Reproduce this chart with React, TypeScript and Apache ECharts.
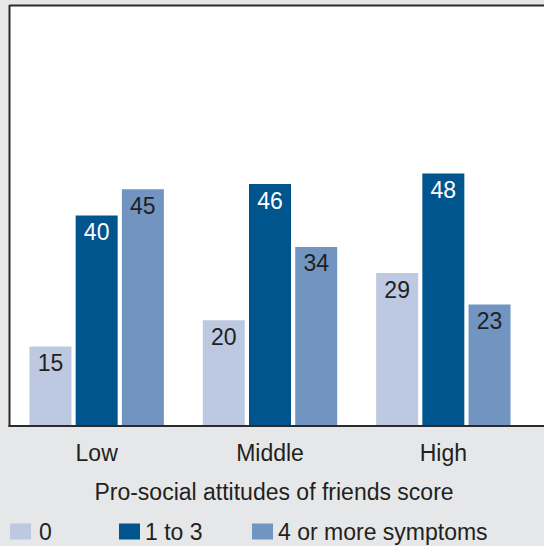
import React, { useEffect, useRef } from "react";
import * as echarts from "echarts";

const categories = ["Low", "Middle", "High"];
const seriesNames = ["0", "1 to 3", "4 or more symptoms"];
const valuesNone = [15, 20, 29];
const valuesOneToThree = [40, 46, 48];
const valuesFourPlus = [45, 34, 23];
const axisTitle = "Pro-social attitudes of friends score";

const colors = ["#bcc9e1", "#00558f", "#7194c1"];
const labelColors = ["#231f20", "#ffffff", "#231f20"];
const FONT = "'Liberation Sans', Arial, Helvetica, sans-serif";
const TEXT = "#231f20";

export default function App() {
  const ref = useRef<HTMLDivElement>(null);
  useEffect(() => {
    if (!ref.current) return;
    const chart = echarts.init(ref.current, null, { renderer: "svg" });
    const data = [valuesNone, valuesOneToThree, valuesFourPlus];
    const legendLefts = [10, 119, 252];
    const legendPads = [[0, 0, 0, 3], [0, 0, 0, 0], [0, 0, 0, 0]];
    chart.setOption({
      animation: false,
      backgroundColor: "#e6e7e8",
      textStyle: { fontFamily: FONT },
      grid: { left: 10, right: 14, top: 6, bottom: 121, containLabel: false },
      legend: seriesNames.map((n, i) => ({
        data: [n],
        left: legendLefts[i],
        top: 520,
        itemWidth: 21,
        itemHeight: 16,
        icon: "rect",
        selectedMode: false,
        padding: 0,
        textStyle: { fontFamily: FONT, fontSize: 23, color: TEXT, padding: legendPads[i] },
      })),
      xAxis: {
        type: "category",
        data: categories,
        axisLine: { show: false },
        axisTick: { show: false },
        axisLabel: { fontFamily: FONT, fontSize: 23, color: TEXT, margin: 16 },
      },
      yAxis: {
        type: "value",
        min: 0,
        max: 80,
        show: false,
        splitLine: { show: false },
      },
      graphic: [
        {
          type: "rect",
          z: -10,
          shape: { x: 10, y: 6, width: 534, height: 419 },
          style: { fill: "#ffffff" },
        },
        {
          type: "line",
          z: 100,
          shape: { x1: 9.5, y1: 5.5, x2: 544, y2: 5.5 },
          style: { stroke: "#2b2b2b", lineWidth: 2 },
        },
        {
          type: "line",
          z: 100,
          shape: { x1: 9.5, y1: 5, x2: 9.5, y2: 427 },
          style: { stroke: "#2b2b2b", lineWidth: 2 },
        },
        {
          type: "line",
          z: 100,
          shape: { x1: 8.5, y1: 426, x2: 544, y2: 426 },
          style: { stroke: "#2b2b2b", lineWidth: 2 },
        },
        {
          type: "text",
          x: 274,
          y: 492,
          style: {
            text: axisTitle,
            fontFamily: FONT,
            fontSize: 23,
            fill: TEXT,
            textAlign: "center",
            textVerticalAlign: "middle",
          },
        },
      ],
      series: seriesNames.map((n, i) => ({
        name: n,
        type: "bar",
        data: data[i],
        barWidth: 42,
        barGap: "10%",
        barCategoryGap: "22.8%",
        itemStyle: { color: colors[i] },
        label: {
          show: true,
          position: "insideTop",
          distance: 5,
          fontFamily: FONT,
          fontSize: 23,
          color: labelColors[i],
        },
      })),
    });
    return () => chart.dispose();
  }, []);
  return (
    <div
      ref={ref}
      style={{ position: "fixed", left: 0, top: 0, width: 544, height: 546 }}
    />
  );
}
